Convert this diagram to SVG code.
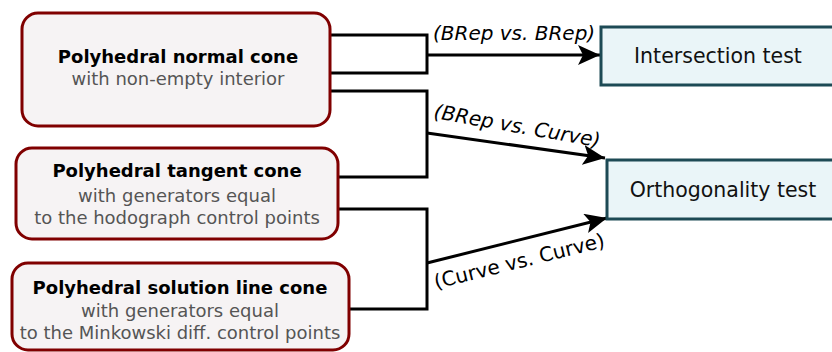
<svg xmlns="http://www.w3.org/2000/svg" width="832" height="352" viewBox="0 0 832 352">
<style>
.src{fill:#f6f3f4;stroke:#800000;stroke-width:3}
.dst{fill:#eaf5f8;stroke:#1d4a55;stroke-width:3}
.t{font-family:"DejaVu Sans",sans-serif;text-anchor:middle}
.b{font-weight:bold;font-size:18px;fill:#000}
.g{font-size:18px;fill:#555}
.d{font-size:20.5px;fill:#111}
.e{font-family:"DejaVu Sans",sans-serif;font-size:20px;fill:#000}
.c{fill:none;stroke:#000;stroke-width:3}
</style>
<defs>
<marker id="ah" markerUnits="userSpaceOnUse" markerWidth="24" markerHeight="22" refX="22" refY="10" orient="auto">
<path d="M0,0 L22,10 L0,20 L5,10 z" fill="#000"/>
</marker>
</defs>
<g id="connectors">
<path class="c" d="M330,35 H427 V73 H330"/>
<path class="c" d="M330,91 H427 V177 H338"/>
<path class="c" d="M338,209 H427 V309 H349"/>
<path class="c" d="M427,55 L600,55" marker-end="url(#ah)"/>
<path class="c" d="M427,133 L605,158" marker-end="url(#ah)"/>
<path class="c" d="M427,263 L607,218" marker-end="url(#ah)"/>
<text class="e" x="433" y="40" font-style="italic">(BRep vs. BRep)</text>
<text class="e" x="433" y="118" font-style="italic" transform="rotate(10 433 118)">(BRep vs. Curve)</text>
<text class="e" x="436" y="289" transform="rotate(-14 436 289)">(Curve vs. Curve)</text>
</g>
<g id="normal">
<rect class="src" x="22" y="13" width="308" height="113" rx="16"/>
<text class="t b" x="178" y="63">Polyhedral normal cone</text>
<text class="t g" x="178" y="85">with non-empty interior</text>
</g>
<g id="tangent">
<rect class="src" x="16" y="148" width="322" height="91" rx="16"/>
<text class="t b" x="177" y="177">Polyhedral tangent cone</text>
<text class="t g" x="177" y="202">with generators equal</text>
<text class="t g" x="177" y="224">to the hodograph control points</text>
</g>
<g id="solution">
<rect class="src" x="12" y="263" width="337" height="87" rx="16"/>
<text class="t b" x="180" y="294">Polyhedral solution line cone</text>
<text class="t g" x="180" y="317">with generators equal</text>
<text class="t g" x="180" y="339">to the Minkowski diff. control points</text>
</g>
<g id="intersection">
<rect class="dst" x="601" y="27" width="250" height="58"/>
<text class="t d" x="718" y="63">Intersection test</text>
</g>
<g id="orthogonality">
<rect class="dst" x="607" y="160" width="250" height="59"/>
<text class="t d" x="723" y="197">Orthogonality test</text>
</g>
</svg>
